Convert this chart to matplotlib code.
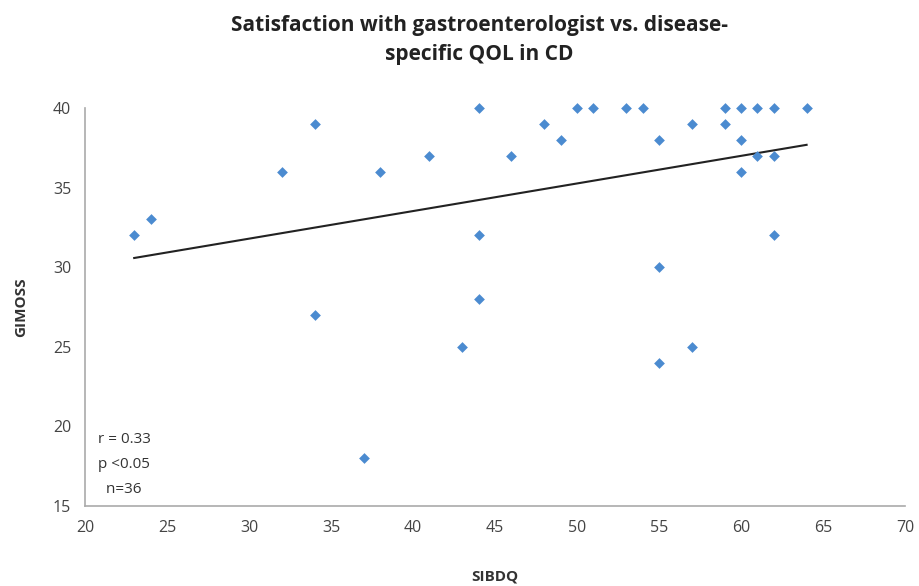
import numpy as np
import matplotlib.pyplot as plt

plt.rcParams['font.family'] = ['Open Sans', 'DejaVu Sans']

# SIBDQ (x) vs GIMOSS (y)
sibdq = [23, 24, 32, 34, 34, 37, 38, 41, 43, 44, 44, 44, 46, 48, 49, 50, 51, 53,
         54, 55, 55, 55, 57, 57, 59, 59, 60, 60, 60, 61, 61, 62, 62, 62, 64]
gimoss = [32, 33, 36, 39, 27, 18, 36, 37, 25, 40, 32, 28, 37, 39, 38, 40, 40, 40,
          40, 38, 30, 24, 39, 25, 40, 39, 40, 38, 36, 40, 37, 40, 37, 32, 40]
stats_text = ["r = 0.33", "p <0.05", "  n=36"]

fig = plt.figure(figsize=(9.19, 5.86), dpi=100)
ax = fig.add_axes([85/919, 1-506/586, 820/919, 398/586])

ax.scatter(sibdq, gimoss, marker='D', s=30, color='#4b8bd0', zorder=3,
           linewidths=0, clip_on=False)

x = np.array(sibdq, dtype=float)
y = np.array(gimoss, dtype=float)
slope, intercept = np.polyfit(x, y, 1)
xl = np.array([x.min(), x.max()])
ax.plot(xl, slope*xl + intercept, color='#222222', lw=1.5, zorder=2)

ax.set_xlim(20, 70)
ax.set_ylim(15, 40)
ax.set_xticks(range(20, 71, 5))
ax.set_yticks(range(15, 41, 5))
ax.tick_params(length=0, labelsize=11.5, colors='#444444', pad=10)
for s in ['top', 'right']:
    ax.spines[s].set_visible(False)
for s in ['left', 'bottom']:
    ax.spines[s].set_color('#aaaaaa')
    ax.spines[s].set_linewidth(1.2)

ax.set_xlabel('SIBDQ', fontsize=11, fontweight='bold', color='#333333', labelpad=24)
ax.set_ylabel('GIMOSS', fontsize=11, fontweight='bold', color='#333333', labelpad=18)

for i, t in enumerate(stats_text):
    ax.text(0.016, 0.168 - i*0.063, t, transform=ax.transAxes, fontsize=11,
            color='#333333', va='center')

fig.suptitle('Satisfaction with gastroenterologist vs. disease-\nspecific QOL in CD',
             x=0.522, y=0.975, fontsize=15, fontweight='bold', color='#222222',
             linespacing=1.5)

fig.savefig('out.png', dpi=100)
